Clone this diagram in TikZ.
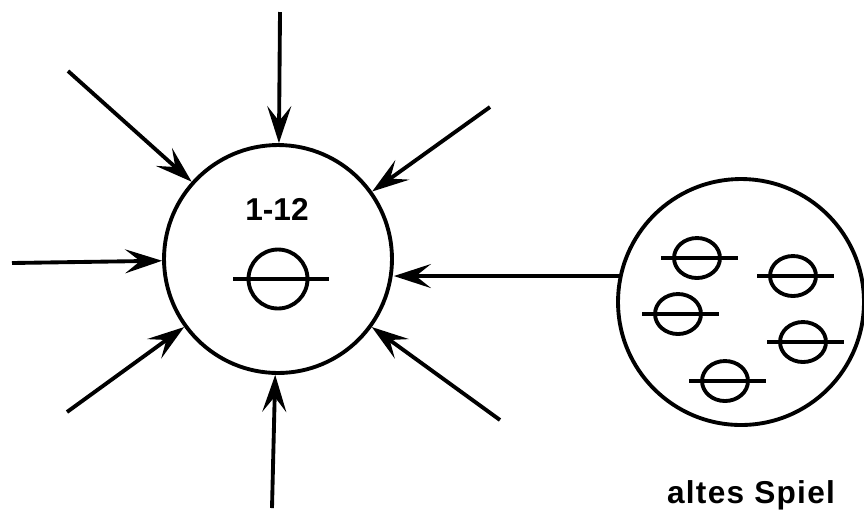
\documentclass[tikz,border=0pt]{standalone}
\usepackage{fontspec}
\setmainfont{Liberation Sans}
\usetikzlibrary{arrows.meta,shapes.geometric}

\tikzset{
  feed/.style={-{Stealth[length=0.74cm,width=0.48cm,inset=0.3cm]}},
  bigcircle/.style={draw,circle,inner sep=0pt},
  token/.style={draw,ellipse,inner sep=0pt,minimum width=0.92cm,minimum height=0.8cm},
  txt/.style={font=\fontsize{18}{20}\selectfont\bfseries}
}

\begin{document}
\begin{tikzpicture}[x=0.02cm,y=-0.02cm,line width=2.2pt]
	\useasboundingbox (0,0) rectangle (864,512);
	% game 1-12
	\node[bigcircle,minimum size=4.56cm] (game) at (278,259) {};
	\node[txt] (num) at (277,209) {1-12};
	\node[bigcircle,minimum size=1.18cm] (cur) at (278,279) {};
	\draw (cur.center) ++(-45,0) -- ++(96,0);
	\foreach \x/\y [count=\i] in {280/12, 68/71, 490/107, 12/263, 67/412, 272/508, 500/420} {
		\coordinate (in\i) at (\x,\y);
		\draw[feed] (in\i) -- (game);
	}
	% old game
	\node[bigcircle,minimum size=4.92cm] (old) at (741,302) {};
	\foreach \x/\y [count=\i] in {697/258, 793/276, 678/314, 803/342, 725/381} {
		\node[token] (t\i) at (\x,\y) {};
		\draw (t\i.center) ++(-36,0) -- ++(77,0);
	}
	\node[txt,anchor=base] (oldname) at (751,503) {\addfontfeature{LetterSpace=4}altes Spiel};
	\draw[feed] (old.168) -- (old.168 -| game.east);
\end{tikzpicture}
\end{document}
